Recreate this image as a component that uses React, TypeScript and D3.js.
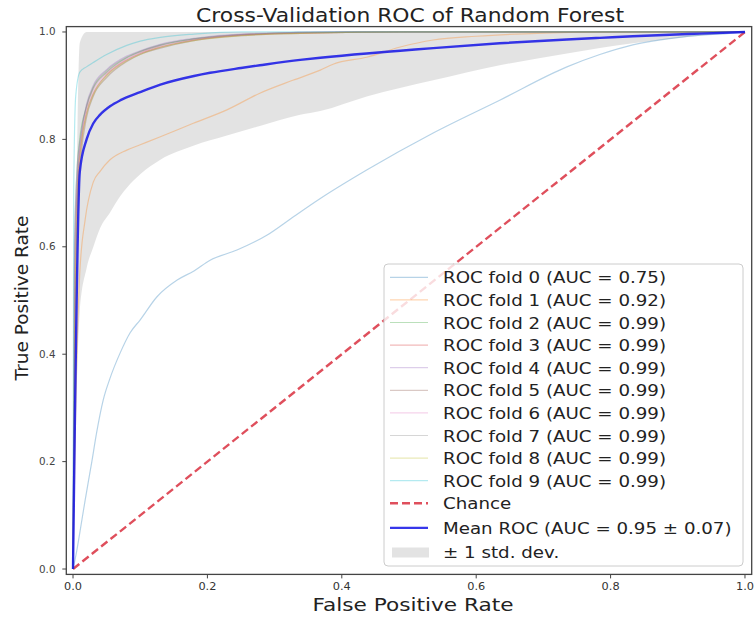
import React from 'react';
import * as d3 from 'd3';

const W = 754;
const H = 617;

const foldNames = [
  'ROC fold 0 (AUC = 0.75)',
  'ROC fold 1 (AUC = 0.92)',
  'ROC fold 2 (AUC = 0.99)',
  'ROC fold 3 (AUC = 0.99)',
  'ROC fold 4 (AUC = 0.99)',
  'ROC fold 5 (AUC = 0.99)',
  'ROC fold 6 (AUC = 0.99)',
  'ROC fold 7 (AUC = 0.99)',
  'ROC fold 8 (AUC = 0.99)',
  'ROC fold 9 (AUC = 0.99)',
];
const foldColors = ['#1f77b4', '#ff7f0e', '#2ca02c', '#d62728', '#9467bd', '#8c564b', '#e377c2', '#7f7f7f', '#bcbd22', '#17becf'];

const fold0: [number, number][] = [[0,0],[0.005,0.03],[0.01,0.067],[0.018,0.128],[0.028,0.2],[0.035,0.253],[0.045,0.315],[0.055,0.355],[0.07,0.402],[0.085,0.44],[0.1,0.464],[0.125,0.507],[0.155,0.538],[0.18,0.555],[0.204,0.575],[0.244,0.594],[0.289,0.622],[0.327,0.655],[0.368,0.69],[0.437,0.743],[0.536,0.812],[0.635,0.873],[0.735,0.935],[0.784,0.958],[0.833,0.976],[0.908,0.991],[0.982,0.998],[1,1]];
const fold1: [number, number][] = [[0,0],[0.004,0.3],[0.01,0.55],[0.018,0.65],[0.03,0.72],[0.04,0.74],[0.055,0.762],[0.08,0.78],[0.1,0.79],[0.13,0.805],[0.179,0.83],[0.229,0.855],[0.278,0.886],[0.327,0.91],[0.368,0.929],[0.387,0.94],[0.437,0.953],[0.487,0.972],[0.536,0.985],[0.6,0.992],[0.7,0.998],[0.8,1],[1,1]];
const fold2: [number, number][] = [[0,0],[0.002,0.55],[0.005,0.72],[0.01,0.8],[0.02,0.86],[0.03,0.895],[0.05,0.925],[0.08,0.952],[0.1,0.963],[0.13,0.975],[0.18,0.987],[0.25,0.995],[0.35,0.999],[0.5,1],[1,1]];
const fold3: [number, number][] = [[0,0],[0.003,0.5],[0.006,0.7],[0.012,0.79],[0.02,0.85],[0.03,0.885],[0.05,0.92],[0.08,0.948],[0.1,0.96],[0.13,0.972],[0.18,0.985],[0.25,0.994],[0.35,0.998],[0.5,1],[1,1]];
const fold4: [number, number][] = [[0,0],[0.002,0.6],[0.006,0.74],[0.012,0.81],[0.02,0.865],[0.03,0.9],[0.05,0.93],[0.08,0.955],[0.1,0.965],[0.13,0.977],[0.18,0.988],[0.25,0.996],[0.4,1],[1,1]];
const fold5: [number, number][] = [[0,0],[0.003,0.45],[0.007,0.68],[0.012,0.77],[0.02,0.84],[0.03,0.88],[0.05,0.915],[0.08,0.945],[0.1,0.958],[0.13,0.97],[0.18,0.984],[0.25,0.993],[0.35,0.998],[0.5,1],[1,1]];
const fold6: [number, number][] = [[0,0],[0.002,0.52],[0.006,0.71],[0.012,0.8],[0.02,0.858],[0.03,0.892],[0.05,0.924],[0.08,0.95],[0.1,0.962],[0.13,0.974],[0.18,0.986],[0.25,0.995],[0.4,1],[1,1]];
const fold7: [number, number][] = [[0,0],[0.003,0.58],[0.007,0.73],[0.012,0.805],[0.02,0.862],[0.03,0.897],[0.05,0.928],[0.08,0.953],[0.1,0.964],[0.13,0.976],[0.18,0.987],[0.25,0.995],[0.4,1],[1,1]];
const fold8: [number, number][] = [[0,0],[0.003,0.48],[0.007,0.69],[0.012,0.785],[0.02,0.845],[0.03,0.882],[0.05,0.918],[0.08,0.946],[0.1,0.958],[0.13,0.971],[0.18,0.984],[0.25,0.993],[0.35,0.998],[0.5,1],[1,1]];
const fold9: [number, number][] = [[0,0],[0.001,0.7],[0.004,0.88],[0.01,0.925],[0.02,0.935],[0.03,0.943],[0.05,0.958],[0.08,0.975],[0.1,0.983],[0.13,0.99],[0.18,0.996],[0.25,1],[1,1]];
const folds = [fold0, fold1, fold2, fold3, fold4, fold5, fold6, fold7, fold8, fold9];

const meanFpr = [0, 0.0101, 0.0202, 0.0303, 0.0404, 0.0556, 0.0707, 0.1, 0.13, 0.18, 0.204, 0.25, 0.278, 0.338, 0.368, 0.437, 0.487, 0.536, 0.635, 0.735, 0.784, 0.833, 0.933, 1.0];
const meanTpr = [0, 0.74, 0.80, 0.83, 0.846, 0.862, 0.873, 0.888, 0.902, 0.918, 0.924, 0.933, 0.938, 0.948, 0.952, 0.96, 0.965, 0.97, 0.979, 0.986, 0.989, 0.992, 0.997, 1.0];

const bandFpr = [0, 0.0101, 0.0202, 0.0303, 0.0404, 0.0556, 0.0707, 0.0808, 0.1, 0.13, 0.179, 0.229, 0.278, 0.338, 0.368, 0.437, 0.536, 0.635, 0.735, 0.833, 0.933, 1.0];
const bandLower = [0, 0.48, 0.56, 0.6, 0.635, 0.665, 0.695, 0.711, 0.735, 0.762, 0.788, 0.807, 0.825, 0.846, 0.853, 0.88, 0.91, 0.938, 0.96, 0.979, 0.993, 1.0];
const bandUpper = [0, 0.98, 1, 1, 1, 1, 1, 1, 1, 1, 1, 1, 1, 1, 1, 1, 1, 1, 1, 1, 1, 1];

const xTicks = [0, 0.2, 0.4, 0.6, 0.8, 1.0];
const yTicks = [0, 0.2, 0.4, 0.6, 0.8, 1.0];
const xTickLabels = ['0.0', '0.2', '0.4', '0.6', '0.8', '1.0'];
const yTickLabels = ['0.0', '0.2', '0.4', '0.6', '0.8', '1.0'];

const title = 'Cross-Validation ROC of Random Forest';
const xLabel = 'False Positive Rate';
const yLabel = 'True Positive Rate';
const chanceLabel = 'Chance';
const meanLabel = 'Mean ROC (AUC = 0.95 \u00b1 0.07)';
const stdLabel = '\u00b1 1 std. dev.';

const FONT = '"DejaVu Sans", sans-serif';

export default function App() {
  const x = d3.scaleLinear().domain([-0.01, 1.01]).range([66.3, 751.7]);
  const y = d3.scaleLinear().domain([-0.01, 1.01]).range([574.4, 26.6]);
  const line = d3.line<[number, number]>().x((d) => x(d[0])).y((d) => y(d[1]));
  const smoothLine = d3
    .line<[number, number]>()
    .x((d) => x(d[0]))
    .y((d) => y(d[1]))
    .curve(d3.curveMonotoneX);
  const meanPts: [number, number][] = meanFpr.map((f, i) => [f, meanTpr[i]]);
  const area = d3
    .area<number>()
    .x((d) => x(bandFpr[d]))
    .y0((d) => y(bandLower[d]))
    .y1((d) => y(bandUpper[d]))
    .curve(d3.curveMonotoneX);
  const bandIdx = bandFpr.map((_, i) => i);

  const [x0, x1] = x.range();
  const [yb, yt] = y.range();

  const legendRowY = (i: number) => 283.3 + 22.6 * i + (i >= 11 ? 2 : 0) + (i >= 12 ? 1.5 : 0);
  const lgX = 390;
  const lgTextX = 443;
  const chanceColor = '#d9303f';

  return (
    <svg width={W} height={H} style={{ position: 'absolute', left: 0, top: 0, background: '#fff' }}>
      <rect x={0} y={0} width={W} height={H} fill="#fff" />
      <defs>
        <clipPath id="plotclip">
          <rect x={x0} y={yt} width={x1 - x0} height={yb - yt} />
        </clipPath>
      </defs>
      <g clipPath="url(#plotclip)">
        <path d={area(bandIdx) || ''} fill="#808080" fillOpacity={0.22} stroke="none" />
        <path
          d={line([[0, 0], [1, 1]]) || ''}
          fill="none"
          stroke={chanceColor}
          strokeOpacity={0.85}
          strokeWidth={2.4}
          strokeDasharray="8,4"
        />
        {folds.map((f, i) => (
          <path key={i} d={smoothLine(f) || ''} fill="none" stroke={foldColors[i]} strokeOpacity={0.32} strokeWidth={1.2} />
        ))}
        <path d={smoothLine(meanPts) || ''} fill="none" stroke="#1414e6" strokeOpacity={0.85} strokeWidth={2.4} />
      </g>

      {/* frame */}
      <rect x={x0} y={yt} width={x1 - x0} height={yb - yt} fill="none" stroke="#444" strokeWidth={1.3} />

      {/* x ticks */}
      {xTicks.map((t, i) => (
        <g key={'xt' + i}>
          <line x1={x(t)} x2={x(t)} y1={yb} y2={yb + 4} stroke="#444" strokeWidth={1} />
          <text
            transform={`translate(${x(t)},590) scale(1.08,1)`}
            textAnchor="middle"
            fontFamily={FONT}
            fontSize={10.5}
            fill="#333"
          >
            {xTickLabels[i]}
          </text>
        </g>
      ))}
      {/* y ticks */}
      {yTicks.map((t, i) => (
        <g key={'yt' + i}>
          <line x1={x0 - 4} x2={x0} y1={y(t)} y2={y(t)} stroke="#444" strokeWidth={1} />
          <text
            transform={`translate(55.5,${y(t) + 3.5}) scale(1.08,1)`}
            textAnchor="end"
            fontFamily={FONT}
            fontSize={9.6}
            fill="#444"
          >
            {yTickLabels[i]}
          </text>
        </g>
      ))}

      {/* title */}
      <text transform="translate(410,21.5) scale(1.12,1)" textAnchor="middle" fontFamily={FONT} fontSize={19.5} fill="#222">
        {title}
      </text>
      {/* x label */}
      <text transform="translate(413,611) scale(1.17,1)" textAnchor="middle" fontFamily={FONT} fontSize={18.5} fill="#222">
        {xLabel}
      </text>
      {/* y label */}
      <text transform="translate(27.5,298) rotate(-90)" textAnchor="middle" fontFamily={FONT} fontSize={18.5} fill="#222">
        {yLabel}
      </text>

      {/* legend */}
      <rect x={384} y={264} width={359} height={302} rx={4} ry={4} fill="#fff" fillOpacity={0.8} stroke="#cccccc" strokeWidth={1} />
      {foldNames.map((name, i) => (
        <g key={'lg' + i}>
          <line
            x1={lgX}
            x2={lgX + 38}
            y1={legendRowY(i) - 6}
            y2={legendRowY(i) - 6}
            stroke={foldColors[i]}
            strokeOpacity={0.32}
            strokeWidth={1.2}
          />
          <text transform={`translate(${lgTextX},${legendRowY(i)}) scale(1.14,1)`} fontFamily={FONT} fontSize={16} fill="#222">
            {name}
          </text>
        </g>
      ))}
      <line
        x1={lgX}
        x2={lgX + 38}
        y1={legendRowY(10) - 6}
        y2={legendRowY(10) - 6}
        stroke={chanceColor}
        strokeOpacity={0.85}
        strokeWidth={2.4}
        strokeDasharray="8,4"
      />
      <text transform={`translate(${lgTextX},${legendRowY(10)}) scale(1.14,1)`} fontFamily={FONT} fontSize={16} fill="#222">
        {chanceLabel}
      </text>
      <line
        x1={lgX}
        x2={lgX + 38}
        y1={legendRowY(11) - 6}
        y2={legendRowY(11) - 6}
        stroke="#1414e6"
        strokeOpacity={0.85}
        strokeWidth={2.4}
      />
      <text transform={`translate(${lgTextX},${legendRowY(11)}) scale(1.14,1)`} fontFamily={FONT} fontSize={16} fill="#222">
        {meanLabel}
      </text>
      <rect x={lgX + 2} y={legendRowY(12) - 10.5} width={37} height={10} fill="#808080" fillOpacity={0.22} />
      <text transform={`translate(${lgTextX},${legendRowY(12)}) scale(1.14,1)`} fontFamily={FONT} fontSize={16} fill="#222">
        {stdLabel}
      </text>
    </svg>
  );
}
